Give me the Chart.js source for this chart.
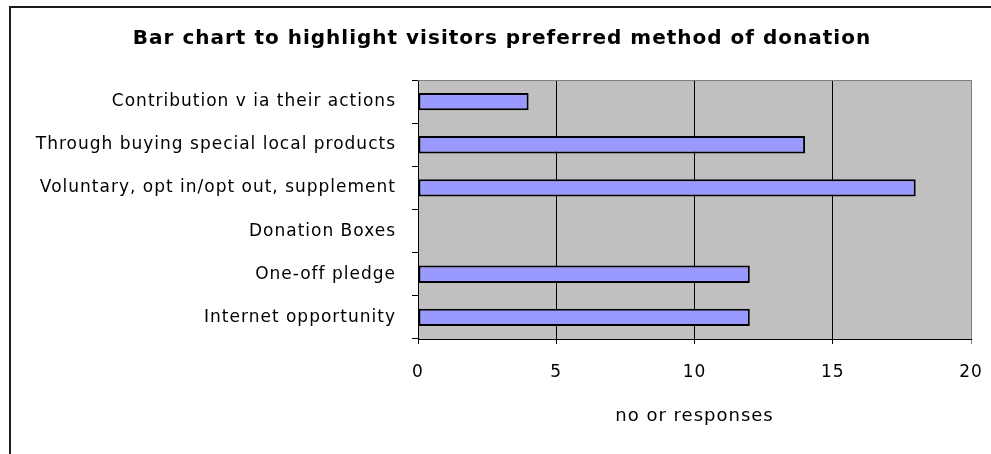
<!DOCTYPE html>
<html>
<head>
<meta charset="utf-8">
<script src="https://cdn.jsdelivr.net/npm/chart.js@4"></script>
<style>
  html, body { margin: 0; padding: 0; background: #fff; overflow: hidden; }
  #wrap { position: relative; width: 991px; height: 454px; }
</style>
</head>
<body>
<div id="wrap"><canvas id="chart" width="991" height="454"></canvas></div>
<script>
// Donation methods and number of responses
const categories = [
  'Contribution v ia their actions',
  'Through buying special local products',
  'Voluntary, opt in/opt out, supplement',
  'Donation Boxes',
  'One-off pledge',
  'Internet opportunity'
];
const responses = [4, 14, 18, 0, 12, 12];
const xTicks = [0, 5, 10, 15, 20];

const FONT = '"DejaVu Sans", "Liberation Sans", sans-serif';

// Slightly open letter spacing for all chart text
const spacingPlugin = {
  id: 'spacing',
  afterInit(chart) { chart.ctx.letterSpacing = '1px'; },
  beforeUpdate(chart) { chart.ctx.letterSpacing = '1px'; },
  beforeDraw(chart) { chart.ctx.letterSpacing = '1px'; }
};

// Grey plot area, grey top edge, and the outer frame
const framePlugin = {
  id: 'frame',
  beforeDraw(chart) {
    const { ctx, chartArea: a } = chart;
    ctx.save();
    ctx.fillStyle = '#C0C0C0';
    ctx.fillRect(a.left, a.top, a.right - a.left, a.bottom - a.top);
    ctx.restore();
  },
  afterDraw(chart) {
    const { ctx, chartArea: a } = chart;
    ctx.save();
    ctx.strokeStyle = '#808080';
    ctx.lineWidth = 1;
    ctx.beginPath();
    ctx.moveTo(a.left, a.top + 0.5);
    ctx.lineTo(a.right, a.top + 0.5);
    ctx.stroke();
    ctx.strokeStyle = '#1a1a1a';
    ctx.lineWidth = 2;
    ctx.strokeRect(10, 7, 1100, 600);
    ctx.restore();
  }
};

new Chart(document.getElementById('chart'), {
  type: 'bar',
  data: {
    labels: categories,
    datasets: [{
      data: responses,
      backgroundColor: '#9999FF',
      borderColor: '#000000',
      borderWidth: 2,
      borderSkipped: false,
      categoryPercentage: 1,
      barPercentage: 0.4
    }]
  },
  options: {
    indexAxis: 'y',
    responsive: false,
    animation: false,
    layout: { padding: { left: 33, right: 20, top: 0, bottom: 0 } },
    plugins: {
      legend: { display: false },
      tooltip: { enabled: false },
      title: {
        display: true,
        text: 'Bar chart to highlight visitors preferred method of donation',
        color: '#000',
        font: { family: FONT, size: 20, weight: 'bold' },
        padding: { top: 27, bottom: 29 }
      }
    },
    scales: {
      x: {
        min: 0,
        max: 20,
        afterFit(scale) {
          scale.height = 115;
          scale.paddingLeft = 0;
          scale.paddingRight = 0;
        },
        afterBuildTicks(scale) { scale.ticks = xTicks.map(v => ({ value: v })); },
        ticks: {
          color: '#000',
          font: { family: FONT, size: 17 },
          padding: 18,
          maxRotation: 0
        },
        grid: {
          color: ctx => (ctx.tick && ctx.tick.value === 20) ? '#808080' : '#000',
          lineWidth: 1,
          tickLength: 5,
          drawOnChartArea: true
        },
        border: { display: true, color: '#000', width: 1 },
        title: {
          display: true,
          text: 'no or responses',
          color: '#000',
          font: { family: FONT, size: 18 },
          padding: { top: 14, bottom: 27 }
        }
      },
      y: {
        afterFit(scale) {
          scale.width = 385;
          scale.paddingTop = 0;
          scale.paddingBottom = 0;
        },
        ticks: {
          color: '#000',
          font: { family: FONT, size: 17 },
          padding: 16
        },
        grid: {
          offset: true,
          color: '#000',
          tickLength: 6,
          drawOnChartArea: false
        },
        border: { display: true, color: '#000', width: 1 }
      }
    }
  },
  plugins: [spacingPlugin, framePlugin]
});
</script>
</body>
</html>
